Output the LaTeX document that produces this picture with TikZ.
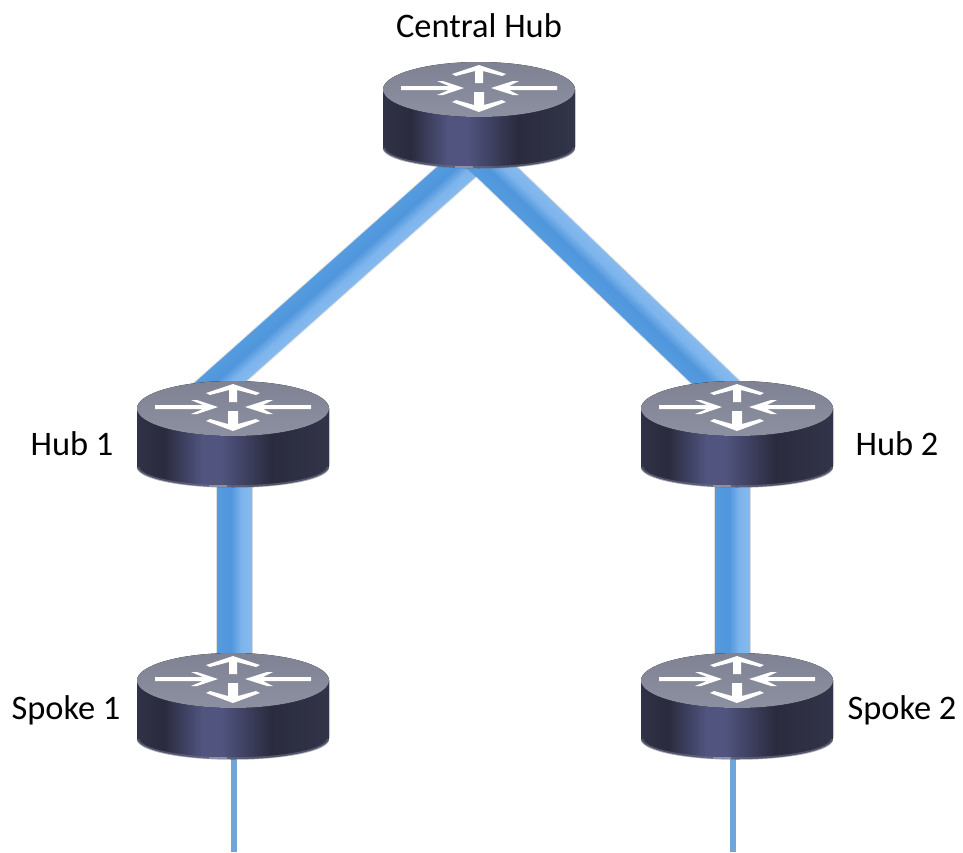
\documentclass[tikz,border=0pt]{standalone}
\usepackage{fontspec}
\setmainfont{Carlito}
\usetikzlibrary{calc}
\definecolor{thinblue}{HTML}{6FA5D8}
\definecolor{topdark}{HTML}{7F8292}
\definecolor{toplight}{HTML}{8D90A0}
\definecolor{rim}{HTML}{6C6F84}
\definecolor{edgegray}{HTML}{4E5063}
\definecolor{bodydark}{HTML}{2A2B3E}
\definecolor{bodymid}{HTML}{36384E}
\definecolor{bodyglow}{HTML}{50547F}
\definecolor{linkedge}{HTML}{5B9BD5}
\definecolor{linkpale}{HTML}{90C1F1}
\definecolor{linksoft}{HTML}{7DB4EC}
\definecolor{linkdeep}{HTML}{5096DC}
\definecolor{linkmid}{HTML}{5AA0E2}
\pgfdeclarehorizontalshading{bodyshade}{100bp}{
  color(0bp)=(edgegray); color(3bp)=(bodymid);
  color(12bp)=(bodydark); color(18bp)=(bodymid); color(32bp)=(bodydark);
  color(42bp)=(bodyglow); color(47bp)=(bodyglow);
  color(60bp)=(bodydark); color(82bp)=(bodymid); color(93bp)=(bodydark);
  color(100bp)=(edgegray)}
\pgfdeclareverticalshading{linkshade}{100bp}{
  color(0bp)=(linkedge); color(5bp)=(linkmid);
  color(45bp)=(linkdeep); color(60bp)=(linksoft);
  color(91bp)=(linkpale); color(95bp)=(linkedge);
  color(100bp)=(linkedge)}
\tikzset{
  lbl/.style={font=\fontsize{34.4}{40}\selectfont,text=black},
  thinlink/.style={line width=5.5pt,draw=thinblue},
  pics/router/.style={code={
    \fill[shading=bodyshade] (-96,1) -- (-96,59) arc[start angle=180,end angle=0,x radius=96,y radius=21]
      -- (96,1) -- cycle;
    \draw[rim,line width=2.5pt,opacity=.6] (-95,60) arc[start angle=180,end angle=0,x radius=95,y radius=19.5];
    \draw[toplight,line width=1.5pt] (-24,79) -- (-6,79);
    \fill[top color=topdark,bottom color=toplight] (0,1.5) ellipse[x radius=96,y radius=27.5];
    \fill[white] (-78,-2) -- (-30,-2) -- (-42,-7) -- (-36,-7) -- (-15,0) -- (-36,7) -- (-42,7) -- (-30,2) -- (-78,2) -- cycle;
    \fill[white] (78,-2) -- (30,-2) -- (40,-7) -- (34,-7) -- (12,0) -- (34,7) -- (40,7) -- (30,2) -- (78,2) -- cycle;
    \fill[white] (-4,-5) -- (-4,-17) -- (-23,-12) -- (-27,-14) -- (0,-23) -- (27,-14) -- (23,-12) -- (4,-17) -- (4,-5) -- cycle;
    \fill[white] (-5,4) -- (-5,17) -- (-23,12) -- (-27,14) -- (0,24) -- (27,14) -- (23,12) -- (5,17) -- (5,4) -- cycle;
  }}
}
\newcommand{\linkbar}[4]{% name, from, to, width
  \draw[black,opacity=.12,line width=#4+2pt,xshift=1.5pt,yshift=-2pt] (#2) -- (#3);
  \path let \p1=($(#3)-(#2)$), \n1={veclen(\x1,\y1)}, \n2={atan2(\y1,\x1)} in
    \pgfextra{\xdef\barlen{\n1}\xdef\barangle{\n2}};
  \begin{scope}[transform canvas={shift={($(#2)!.5!(#3)$)},rotate=\barangle}]
    \node[inner sep=0pt,outer sep=0pt,minimum width=\barlen,minimum height=#4,shading=linkshade](#1) at (0,0) {};
  \end{scope}
}
\begin{document}
\begin{tikzpicture}[x=1pt,y=-1pt]
        \useasboundingbox (0,0) rectangle (963,852);

        \path
        (479,88) coordinate(hub)
        (233,407) coordinate(hubone)
        (737,407) coordinate(hubtwo)
        (233,679) coordinate(spokeone)
        (737,679) coordinate(spoketwo)
        (481,150) coordinate(hubl)
        (474,150) coordinate(hubr)
        (200,400) coordinate(hubonein)
        (734,400) coordinate(hubtwoin)
        (234.5,440) coordinate(hubonedown)
        (732.5,440) coordinate(hubtwodown)
        (234.5,690) coordinate(spokeonein)
        (732.5,690) coordinate(spoketwoin)
        (234,740) coordinate(spokeonedown)
        (733,740) coordinate(spoketwodown)
        (234,852) coordinate(endone)
        (733,852) coordinate(endtwo)
        ;

        % links first, the routers go on top
        \linkbar{linkl}{hubl}{hubonein}{33pt}
        \linkbar{linkr}{hubr}{hubtwoin}{35pt}
        \linkbar{linkone}{hubonedown}{spokeonein}{35pt}
        \linkbar{linktwo}{hubtwodown}{spoketwoin}{35pt}
        \draw[thinlink] (spokeonedown) -- (endone);
        \draw[thinlink] (spoketwodown) -- (endtwo);

        \foreach \r in {hub,hubone,hubtwo,spokeone,spoketwo}
          \path (\r) pic {router};

        \node[lbl] (hublabel) at (479,26) {Central Hub};
        \node[lbl] (hubonelabel) at (72,444) {Hub 1};
        \node[lbl] (hubtwolabel) at (897,444) {Hub 2};
        \node[lbl] (spokeonelabel) at (66,710) {Spoke 1};
        \node[lbl] (spoketwolabel) at (902,710) {Spoke 2};
\end{tikzpicture}
\end{document}
